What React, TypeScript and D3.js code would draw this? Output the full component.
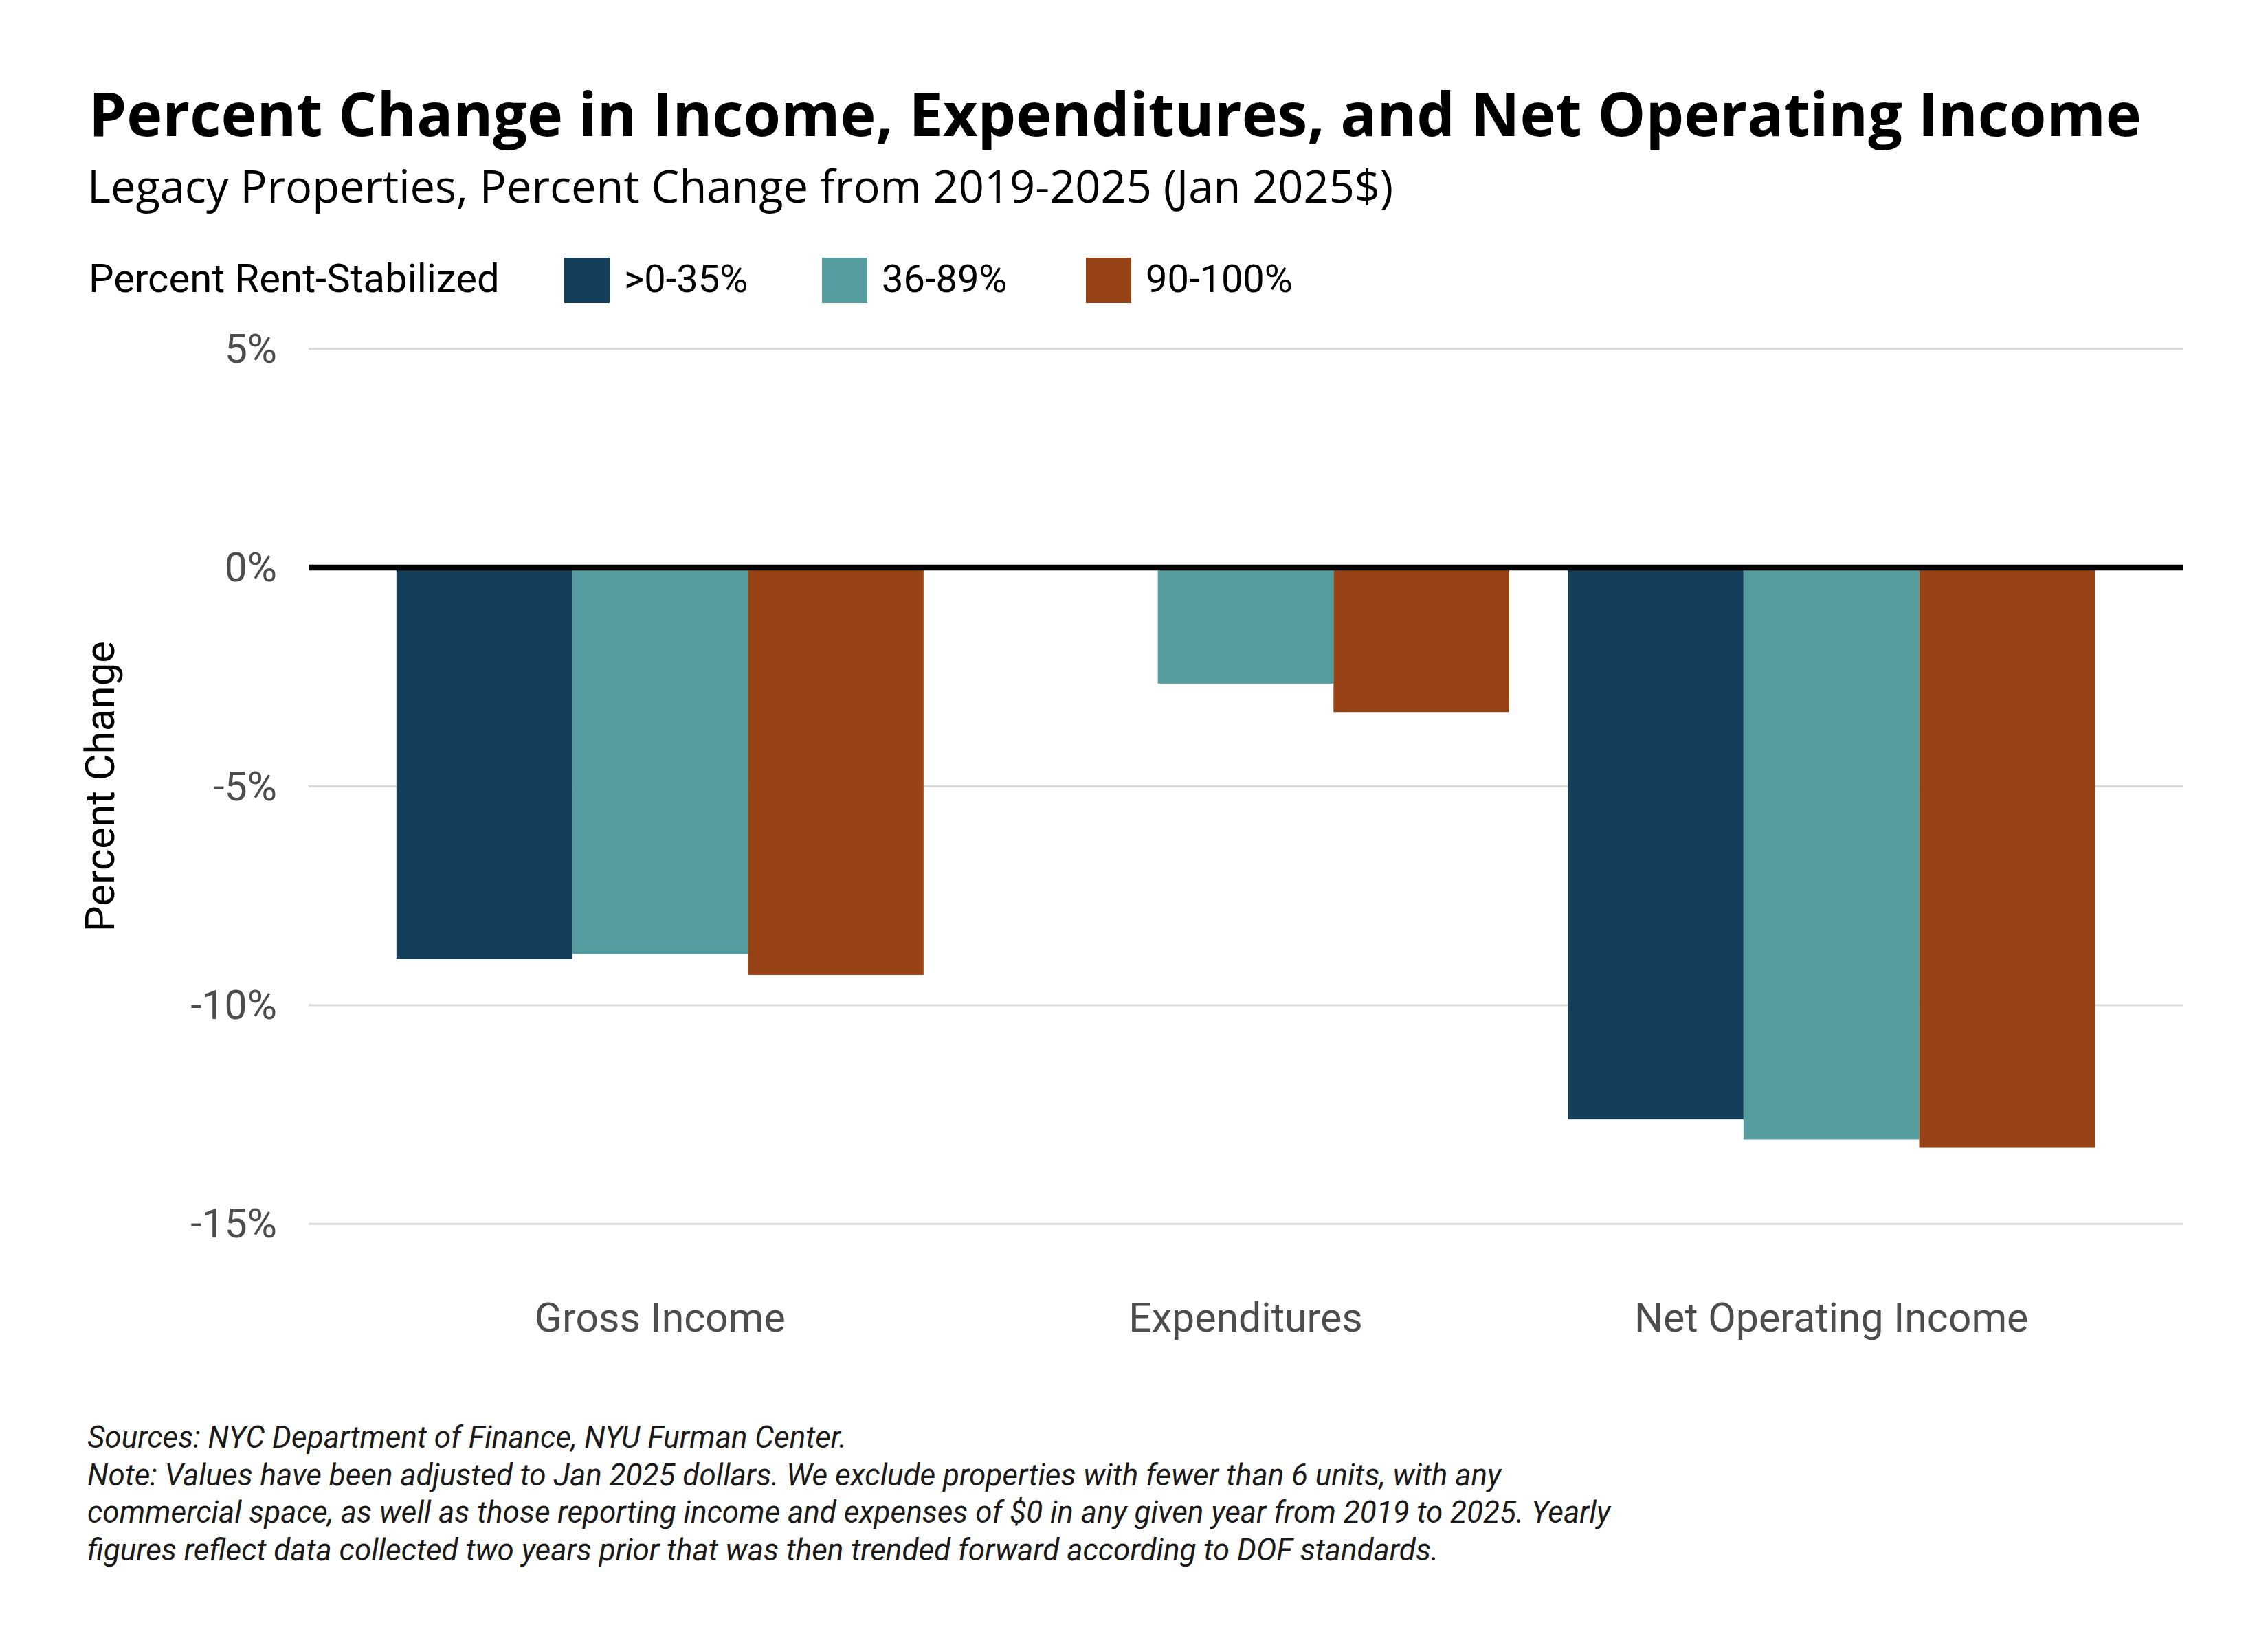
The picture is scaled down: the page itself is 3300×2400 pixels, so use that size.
import React from "react";
import * as d3 from "d3";

// Chart data
const categories = ["Gross Income", "Expenditures", "Net Operating Income"];
const seriesNames = [">0-35%", "36-89%", "90-100%"];
const lowShare = [-8.95, 0, -12.61];
const midShare = [-8.83, -2.65, -13.07];
const highShare = [-9.31, -3.3, -13.26];
const yTicks = [5, 0, -5, -10, -15];
const yTickLabels = ["5%", "0%", "-5%", "-10%", "-15%"];
const colors = ["#133f5a", "#559c9f", "#984315"];

const captionLines = [
  "Sources: NYC Department of Finance, NYU Furman Center.",
  "Note: Values have been adjusted to Jan 2025 dollars. We exclude properties with fewer than 6 units, with any",
  "commercial space, as well as those reporting income and expenses of $0 in any given year from 2019 to 2025. Yearly",
  "figures reflect data collected two years prior that was then trended forward according to DOF standards.",
];

const seriesValues = [lowShare, midShare, highShare];

const W = 3300;
const H = 2400;
const panel = { left: 449, right: 3176, top: 444, bottom: 1845 };
const font = "Roboto, 'Noto Sans', sans-serif";
const wideFont = "'Open Sans', Roboto, sans-serif";

const App: React.FC = () => {
  // outer category positions (ggplot-like 0.6 expansion)
  const x = d3
    .scalePoint<string>()
    .domain(categories)
    .range([panel.left, panel.right])
    .padding(0.6);
  const step = x.step();

  // dodge within group
  const xInner = d3
    .scaleBand<string>()
    .domain(seriesNames)
    .range([-0.45 * step, 0.45 * step]);

  const y = d3
    .scaleLinear()
    .domain([-16, 6])
    .range([panel.bottom, panel.top]);

  const bars = seriesNames.flatMap((s, si) =>
    categories.map((c, ci) => ({ s, si, c, v: seriesValues[si][ci] }))
  );

  const legendKeys = [821, 1196, 1580];

  return (
    <div style={{ position: "absolute", left: 0, top: 0 }}>
      <svg width={W} height={H} style={{ display: "block", background: "#fff" }}>
        <rect width={W} height={H} fill="#fff" />

        {/* titles */}
        <text x={129} y={198} fontFamily={wideFont} fontWeight={700} fontSize={88} fill="#000">
          Percent Change in Income, Expenditures, and Net Operating Income
        </text>
        <text x={127} y={295} fontFamily={wideFont} fontSize={65} fill="#000">
          Legacy Properties, Percent Change from 2019-2025 (Jan 2025$)
        </text>

        {/* legend */}
        <text x={129} y={425} fontFamily={font} fontSize={58} fill="#000">
          Percent Rent-Stabilized
        </text>
        {seriesNames.map((s, i) => (
          <g key={s}>
            <rect x={legendKeys[i]} y={375} width={66} height={66} fill={colors[i]} />
            <text x={legendKeys[i] + 87} y={425} fontFamily={font} fontSize={56} fill="#000">
              {s}
            </text>
          </g>
        ))}

        {/* grid */}
        {yTicks.map((t) => (
          <line
            key={t}
            x1={panel.left}
            x2={panel.right}
            y1={y(t)}
            y2={y(t)}
            stroke="#d9d9d9"
            strokeWidth={3}
          />
        ))}

        {/* bars */}
        {bars.map((b) => {
          const bx = (x(b.c) || 0) + (xInner(b.s) || 0);
          const y0 = y(0);
          const y1 = y(b.v);
          return (
            <rect
              key={b.s + b.c}
              x={bx}
              y={Math.min(y0, y1)}
              width={xInner.bandwidth()}
              height={Math.abs(y1 - y0)}
              fill={colors[b.si]}
            />
          );
        })}

        {/* zero line */}
        <line x1={panel.left} x2={panel.right} y1={y(0)} y2={y(0)} stroke="#000" strokeWidth={8.5} />

        {/* y axis labels */}
        {yTicks.map((t, i) => (
          <text
            key={t}
            x={403}
            y={y(t) + 20}
            textAnchor="end"
            fontFamily={font}
            fontSize={59}
            fill="#4d4d4d"
          >
            {yTickLabels[i]}
          </text>
        ))}
        <text
          transform={`translate(166,${(panel.top + panel.bottom) / 2}) rotate(-90)`}
          textAnchor="middle"
          fontFamily={font}
          fontSize={60}
          fill="#000"
        >
          Percent Change
        </text>

        {/* x axis labels */}
        {categories.map((c) => (
          <text
            key={c}
            x={x(c)}
            y={1938}
            textAnchor="middle"
            fontFamily={font}
            fontSize={59}
            fill="#4d4d4d"
          >
            {c}
          </text>
        ))}

        {/* caption */}
        {captionLines.map((l, i) => (
          <text
            key={i}
            x={127}
            y={2107 + i * 54.5}
            fontFamily={font}
            fontStyle="italic"
            fontSize={44}
            fill="#1a1a1a"
          >
            {l}
          </text>
        ))}
      </svg>
    </div>
  );
};

export default App;
